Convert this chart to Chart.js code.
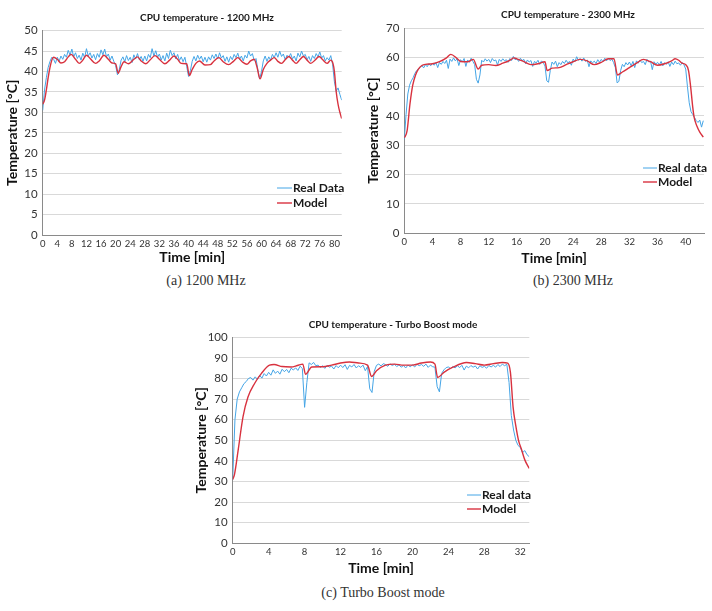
<!DOCTYPE html>
<html><head><meta charset="utf-8">
<script src="https://cdn.jsdelivr.net/npm/chart.js@4"></script>
<style>
html,body{margin:0;padding:0;background:#fff;width:712px;height:611px;overflow:hidden}
canvas{position:absolute}
.cap{position:absolute;font-family:"Liberation Serif","Times New Roman",serif;font-size:14px;color:#333;transform:translate(-50%,-50%);white-space:nowrap}
</style></head><body>
<canvas id="cA" width="356" height="270" style="left:0;top:0"></canvas>
<canvas id="cB" width="356" height="270" style="left:356px;top:0"></canvas>
<canvas id="cC" width="360" height="270" style="left:180px;top:310px"></canvas>
<div class="cap" style="left:206px;top:281px">(a) 1200 MHz</div>
<div class="cap" style="left:573px;top:281px">(b) 2300 MHz</div>
<div class="cap" style="left:383px;top:593px">(c) Turbo Boost mode</div>
<script>
// ---------- (a) 1200 MHz ----------
const titleA = 'CPU temperature - 1200 MHz';
const xTicksA = [0,4,8,12,16,20,24,28,32,36,40,44,48,52,56,60,64,68,72,76,80];
const realStepA = 0.5; // minutes between real samples
const realTempA = [30.5,35.5,38.5,41,42.5,43.5,43,42,43.5,42.5,
43.8,43,44.2,43.5,45.2,44,45.5,43.6,44.6,43.2,
44,42.8,44.5,43.4,45.6,43.8,44.6,43.3,44.2,42.9,
44.4,43.5,45.3,44.1,45.5,43.6,44.3,42.8,43.8,42.5,
41.5,39.2,40.5,42.8,43.6,42.4,43.9,42.7,43.5,42.2,
44.1,43.1,44.4,42.9,43.7,42.5,43.8,42.6,44.2,43.4,
45.6,43.8,45.1,43.5,44.3,42.8,43.9,42.6,44.5,43.2,
45.2,43.9,44.6,43.1,44.2,42.7,43.6,42.4,43.5,41.2,
38.8,40.2,42.5,43.7,42.6,44,43,43.8,42.4,43.5,
42.3,43.6,42.8,44.1,43.2,44.3,43.1,44.6,43.3,43.9,
42.5,43.6,42.3,43.7,42.9,44.2,43.4,44.5,43,43.8,
42.6,44,43.3,45,43.8,44.4,42.7,43.2,40.5,38.2,
40,42.6,43.8,42.5,43.6,42.8,44.2,43.4,44.6,43.5,
45,43.7,44.3,42.9,44,43.5,44.4,43.1,43.8,42.6,
44.5,43.6,45,43.8,44.2,42.9,43.7,42.5,43.9,43.2,
44.4,43.6,44.8,43.3,43.9,42.6,43.4,42.8,43.9,41.8,
37.5,35.2,36,34.4,33];
const modelTimeA = [0,0.5,1,1.5,2,2.5,3,4,5,6,7,7.8,9,10,11,12,13,14.5,15.5,16.8,18,19,20,20.7,21.5,22.3,23.5,25,26,27,28.3,29.5,30.8,32,33.5,34.8,36,37,38,39.5,40.2,41,42,43,44.5,46,47,48.3,49.5,51,52.3,53.5,54.7,56,57,58,58.8,59.6,60.5,61.5,62.5,63.5,64.5,65.5,66.5,67.5,68.5,69.5,70.5,71.5,72.5,73.5,74.8,75.8,76.8,78,79,79.6,80,80.5,81,81.5,82];
const modelTempA = [32,33,35.5,38.5,41,42.8,43.5,43,42.1,42.4,43.6,44.2,43,42,42.8,44,43.2,42,42.6,44,43,42.1,41.9,39.6,41.2,42.4,41.9,43,43.6,42.6,41.9,42.9,43.9,43,41.9,42.8,43.8,43,42,41.9,39,40.5,42,42.6,41.6,41.7,42.6,43.4,42.4,41.7,42.5,43.4,42.4,41.8,42.6,43,41,38.2,40.5,42,42.8,43.4,42.5,42,42.9,43.7,42.8,42,42.9,43.7,42.8,42,42.9,43.7,42.9,42,42.8,42,40,35,32,30,28.5];

// ---------- (b) 2300 MHz ----------
const titleB = 'CPU temperature - 2300 MHz';
const xTicksB = [0,4,8,12,16,20,24,28,32,36,40];
const realStepB = 0.25;
const realTempB = [32,40.5,47.5,50.5,
52,53,54.5,55.5, 56,56.5,57.2,56.4, 57.5,56.8,57.8,57.1, 58,57.3,58.2,56.5,
58.3,57.6,58.6,57.9, 59,56.2,59.4,58.6, 59.8,58.8,59.5,57.2, 59.2,58.4,59.6,56.9, 59.1,58.3,59.7,58.6,
57.5,52.5,51.2,54, 59,58.4,59.5,58.7, 59.3,58.2,59.6,58.8, 59.1,57.4,59.3,58.6, 59.5,58.8,59.2,58.3,
59.6,58.9,60.3,59.2, 59.5,58.6,59.7,58.9, 59.3,57.8,59.1,58.4, 58.9,56.9,58.6,58.1, 59,57.6,58.8,58.2,
57,52,51.5,55.5, 58.4,57.6,58.7,56.8, 58.2,57.5,58.6,57.9, 59,58.1,58.6,57.3, 59.4,58.5,60.2,59,
59.6,58.7,59.8,58.6, 59.1,56.8,58.8,58.1, 58.7,57.9,59.2,58.3, 59.3,58.5,59.7,58.8, 59.6,58.9,59.4,58.2,
56.5,51.3,51.8,55.5, 57.6,56.8,58.2,57.4, 58.4,57.1,58.6,56.5, 58.8,58,59.1,58.2, 58.6,57.5,59.3,58.4,
58.7,55.8,58.5,57.7, 58.3,57.4,58.6,57.1, 58.2,57.6,58.5,56.9, 58.4,57.5,58.7,57.8, 58.1,57.3,58.2,57.5,
56,50,44.5,41.5, 40.5,39.5,38.4,37.8, 38.6,36.2,38.4];
const modelTimeB = [0,0.4,0.8,1.2,1.6,2,2.5,3,4,5,6,6.6,7.5,8,9,9.8,10.5,11,12,13,14,15,15.6,16,17,18,19,20,20.3,21,22,23,24,25,26,27,28,29,29.8,30.3,31,32,33,34,35,36,37,38,38.5,39,39.5,40,40.4,40.7,41,41.2,41.6,42,42.5];
const modelTempB = [32.5,35,44,50.5,54,56,57.2,57.6,57.8,58.5,59.8,61,59.6,58.6,58.5,59.3,56,57.3,57.5,57.2,58,59,59.8,59.5,58.5,57.5,57.8,58.5,55.5,56.3,56.5,57.5,58.5,59.3,58.8,57.5,58.3,59.5,59.5,54,55,56.5,58,59.3,58.5,57.3,57.8,58.8,59.5,59,58,57.5,55.5,50,43,39.5,36.5,34.5,32.8];

// ---------- (c) Turbo Boost ----------
const titleC = 'CPU temperature - Turbo Boost mode';
const xTicksC = [0,4,8,12,16,20,24,28,32];
const realStepC = 0.25;
const realTempC = [31,60,70,73.5, 75.5,77.5,78.5,80, 80.5,79.2,80.8,79.6, 81.5,80.2,82.4,81.2,
83,81.6,84.2,82.5, 83.6,82.1,84.5,83.3, 84.4,82.8,85,84.1, 85.2,83.9,86,84.8,
66,78,87.6,86.8, 87.8,86.2,86.5,85.3, 86.2,84.9,86.4,85.5, 86,84.6,86.3,85.2,
86.5,85.3,86.7,84.4, 86.4,85.6,86.8,85.1, 86.2,85.4,86.5,83.8, 85.8,75,73.2,83.5,
86.4,87,86.1,87.2, 86.8,85.9,87.1,86.3, 86.9,85.8,86.6,85.5, 86.3,85.1,86.5,85.7,
86.6,85.6,86.9,86.2, 86.8,85.9,87,85.4, 86.5,85.7,85.5,76, 73.5,82.5,84.2,85.3,
85.6,84.8,85.9,85.1, 86.2,85.3,86.4,84.1, 86,85.2,86.3,85.5, 86.1,84.6,86.2,85.4,
85.9,85,86.3,85.6, 86.4,85.5,86.8,85.8, 87,86.2,86.9,78, 62,55,50,47.5,
46.5,44,45,43, 42];
const modelTimeC = [0,0.2,0.6,1.15,1.7,2.45,3.2,4.1,4.6,5.5,6.5,7.2,7.8,8.1,8.8,10,11,12,13,14,15,15.45,16,17,18,19,20,21,22,22.5,22.8,23.5,24.5,26,27,28,29,30,30.6,30.9,31.2,31.5,31.8,32.1,32.5,33];
const modelTempC = [31,33.5,45,61.5,71,77.7,82.5,86.5,86.8,85.8,85.6,86.3,87,82,85.6,85.7,86.5,87.5,88,87.5,86.5,81,83.8,86.5,87,86.5,86.5,87.5,88,87,80.5,83,85.5,87.8,87.2,86.5,87.2,87.8,87.5,83,66,57,50,46,40.5,36.3];

const BLUE = '#45a5e6';
const RED = '#d8323f';
const AXIS = '#8a8a8a';
const GRID = '#d9d9d9';
const FONT = 'Lato';

const decor = {
  id: 'decor',
  afterDraw(chart, args, o) {
    const ctx = chart.ctx;
    ctx.save();
    ctx.fillStyle = '#1a1a1a';
    ctx.font = 'bold 10px ' + FONT;
    ctx.textAlign = 'center';
    ctx.textBaseline = 'middle';
    ctx.fillText(o.title, o.tx, o.ty);
    ctx.font = 'bold 12px ' + FONT;
    ctx.textAlign = 'left';
    chart.data.datasets.forEach((ds, i) => {
      const y = o.ly + i * o.lgap;
      ctx.strokeStyle = ds.borderColor;
      ctx.lineWidth = ds.borderWidth;
      ctx.beginPath();
      ctx.moveTo(o.lx, y);
      ctx.lineTo(o.lx + o.lw, y);
      ctx.stroke();
      ctx.fillText(ds.label, o.lx + o.lw + 1, y);
    });
    ctx.restore();
  }
};

function makeChart(id, realLabel, real, realStep, mT, mY, xTicks, c) {
  new Chart(document.getElementById(id), {
    type: 'line',
    data: {
      datasets: [
        { label: realLabel, data: real.map((v, i) => ({ x: i * realStep, y: v })),
          borderColor: BLUE, borderWidth: 1, pointRadius: 0, tension: 0, order: 1 },
        { label: 'Model', data: mT.map((t, i) => ({ x: t, y: mY[i] })),
          borderColor: RED, borderWidth: 1.4, pointRadius: 0, cubicInterpolationMode: 'monotone', order: 0 }
      ]
    },
    options: {
      responsive: false, animation: false,
      layout: { padding: { top: c.top, right: c.right, left: 0, bottom: 0 } },
      plugins: { legend: { display: false }, title: { display: false }, tooltip: { enabled: false }, decor: c.decor },
      scales: {
        x: {
          type: 'linear', min: 0, max: c.xmax,
          afterBuildTicks: s => { s.ticks = xTicks.map(v => ({ value: v })); },
          ticks: { font: { family: FONT, size: 9.5 }, color: '#333', padding: 3, maxRotation: 0, autoSkip: false },
          grid: { display: false, drawTicks: false },
          border: { display: true, color: AXIS },
          title: { display: true, text: 'Time [min]', font: { family: FONT, size: 14, weight: 'bold' }, color: '#111', padding: { top: 0, bottom: c.xtb } },
          afterFit: s => { s.height = c.xh; }
        },
        y: {
          min: 0, max: c.ymax,
          ticks: { stepSize: c.ystep, font: { family: FONT, size: 11.5 }, color: '#333', padding: 5 },
          grid: { color: GRID, drawTicks: false },
          border: { display: true, color: AXIS },
          title: { display: true, text: 'Temperature [°C]', font: { family: FONT, size: 14, weight: 'bold' }, color: '#111', padding: { top: c.ytp, bottom: 0 } },
          afterFit: s => { s.width = c.yw; }
        }
      }
    },
    plugins: [decor]
  });
}

makeChart('cA', 'Real Data', realTempA, realStepA, modelTimeA, modelTempA, xTicksA, {
  top: 30.7, right: 14.3, xh: 35, yw: 42.7, xmax: 82, ymax: 50, ystep: 5, xtb: 4, ytp: 4.5,
  decor: { title: titleA, tx: 207, ty: 18, lx: 277, lw: 15, ly: 188, lgap: 15 }
});
makeChart('cB', 'Real data', realTempB, realStepB, modelTimeB, modelTempB, xTicksB, {
  top: 28, right: 8, xh: 36.7, yw: 48.3, xmax: 42.6, ymax: 70, ystep: 10, xtb: 3.5, ytp: 9,
  decor: { title: titleB, tx: 212, ty: 15, lx: 287, lw: 14, ly: 168, lgap: 14 }
});
makeChart('cC', 'Real data', realTempC, realStepC, modelTimeC, modelTempC, xTicksC, {
  top: 27.3, right: 10.7, xh: 36.7, yw: 52.7, xmax: 33, ymax: 100, ystep: 10, xtb: 3.5, ytp: 13.5,
  decor: { title: titleC, tx: 213, ty: 15, lx: 287, lw: 14, ly: 185, lgap: 14 }
});
</script>
</body></html>
